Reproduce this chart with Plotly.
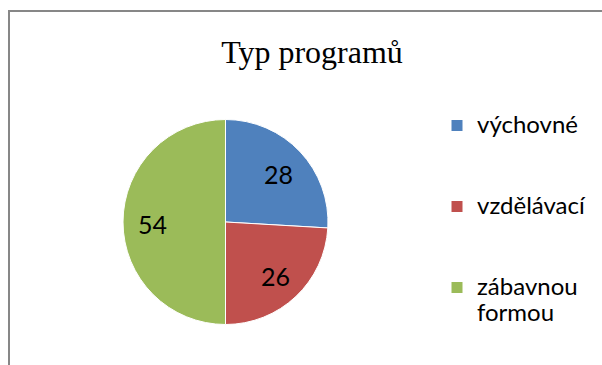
import math
import plotly.graph_objects as go

# Data
categories = ["výchovné", "vzdělávací", "zábavnou formou"]
values = [28, 26, 54]
colors = ["#4F81BD", "#C0504D", "#9BBB59"]
title_text = "Typ programů"

W, H = 602, 365

# Pie geometry in pixels (centre and radius)
cx_px, cy_px, r_px = 225.5, 222.0, 102.5
dom_x = [(cx_px - r_px) / W, (cx_px + r_px) / W]
dom_y = [1 - (cy_px + r_px) / H, 1 - (cy_px - r_px) / H]

label_font = "Lato, 'Open Sans', sans-serif"

# Legend entries: visible words at full size, padded with blank lines for spacing
legend_size = 24
def legend_name(name):
    words = name.split(" ")
    if len(words) > 1:
        lines = [" ".join(words[:-1]), words[-1]]
    else:
        lines = [name]
    shown = [f'<span style="font-size:{legend_size}px">{ln}</span>' for ln in lines]
    while len(shown) < 3:
        shown.append(" ")
    return "<br>".join(shown)

legend_labels = [legend_name(c) for c in categories]

fig = go.Figure(
    go.Pie(
        labels=legend_labels,
        values=values,
        sort=False,
        direction="clockwise",
        rotation=0,
        marker=dict(colors=colors, line=dict(color="white", width=1)),
        textinfo="none",
        hoverinfo="label+value",
        domain=dict(x=dom_x, y=dom_y),
        showlegend=True,
    )
)

# Value labels placed along each slice's bisector
total = sum(values)
start = 0.0
label_r = 0.71 * r_px
annotations = []
for v in values:
    mid = (start + v / 2) / total * 2 * math.pi
    start += v
    px = cx_px + label_r * math.sin(mid)
    py = cy_px - label_r * math.cos(mid) + 1.5
    annotations.append(
        dict(
            x=px / W, y=1 - py / H, xref="paper", yref="paper",
            text=str(v), showarrow=False,
            xanchor="center", yanchor="middle",
            font=dict(family=label_font, size=25, color="black"),
        )
    )

fig.update_layout(
    width=W,
    height=H,
    margin=dict(l=0, r=0, t=0, b=0),
    paper_bgcolor="white",
    plot_bgcolor="white",
    title=dict(
        text=title_text,
        x=312 / W, xanchor="center",
        y=1 - 52 / H, yanchor="middle",
        font=dict(family="'Liberation Serif', 'Times New Roman', serif", size=32, color="black"),
    ),
    legend=dict(
        x=437 / W, xanchor="left",
        y=1 - 106 / H, yanchor="top",
        valign="top",
        font=dict(family=label_font, size=20, color="black"),
        bgcolor="rgba(0,0,0,0)",
        itemclick=False,
        itemdoubleclick=False,
    ),
    annotations=annotations,
    shapes=[
        dict(
            type="path", xref="paper", yref="paper",
            path=f"M {9/W},-0.05 L {9/W},{1 - 11/H} L 1.05,{1 - 11/H}",
            line=dict(color="#878787", width=2),
            layer="below",
        )
    ],
)

fig.write_html("out.html")
